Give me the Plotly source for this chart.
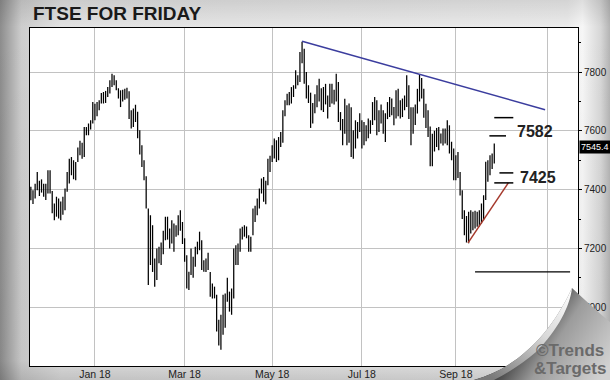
import base64
import pandas as pd
import plotly.graph_objects as go

# ---------------- data ----------------
TITLE = "FTSE FOR FRIDAY"
FIRST_DAY = "2017-11-16"
LAST_DAY = "2018-09-27"
HOLIDAYS = ["2017-12-25", "2017-12-26", "2018-01-01", "2018-03-30",
            "2018-04-02", "2018-05-07", "2018-05-28", "2018-08-27"]

HIGH_NOV17 = [7410, 7398, 7420, 7460, 7430, 7435, 7420, 7420, 7466, 7466, 7395]
LOW_NOV17 = [7364, 7351, 7370, 7398, 7378, 7390, 7376, 7365, 7387, 7387, 7320]
HIGH_DEC17 = [7353, 7376, 7370, 7360, 7376, 7404, 7460, 7505, 7511, 7500, 7494,
              7543, 7566, 7560, 7613, 7613, 7625, 7636, 7698]
LOW_DEC17 = [7296, 7308, 7302, 7296, 7315, 7330, 7393, 7421, 7449, 7435, 7432,
             7494, 7517, 7505, 7511, 7585, 7585, 7605, 7625]
HIGH_JAN18 = [7692, 7698, 7704, 7729, 7732, 7736, 7749, 7772, 7794, 7789, 7772,
              7745, 7738, 7740, 7743, 7747, 7735, 7670, 7676, 7689, 7665, 7602]
LOW_JAN18 = [7636, 7650, 7670, 7693, 7693, 7695, 7715, 7727, 7749, 7755, 7738,
             7710, 7681, 7700, 7706, 7710, 7640, 7608, 7613, 7630, 7575, 7520]
HIGH_FEB18 = [7551, 7500, 7446, 7336, 7313, 7279, 7166, 7200, 7206, 7220, 7260,
              7308, 7308, 7268, 7296, 7285, 7279, 7313, 7330, 7290]
LOW_FEB18 = [7477, 7432, 7336, 7076, 7144, 7120, 7070, 7093, 7150, 7144, 7180,
             7228, 7230, 7200, 7217, 7189, 7240, 7245, 7260, 7215]
HIGH_MAR18 = [7235, 7177, 7121, 7200, 7172, 7206, 7223, 7257, 7228, 7160, 7166,
              7185, 7120, 7081, 7070, 7042, 6957, 6974, 7042, 7047, 7100]
LOW_MAR18 = [7155, 7064, 7059, 7110, 7100, 7138, 7180, 7194, 7127, 7121, 7120,
             7127, 7036, 7030, 7030, 6917, 6870, 6855, 6906, 6930, 7019]
HIGH_APR18 = [7053, 7064, 7200, 7211, 7217, 7268, 7274, 7279, 7275, 7245, 7240,
              7336, 7345, 7370, 7404, 7438, 7443, 7430, 7505, 7515]
LOW_APR18 = [6985, 6974, 7030, 7144, 7144, 7189, 7230, 7240, 7235, 7189, 7189,
             7245, 7290, 7313, 7336, 7387, 7359, 7350, 7415, 7460]
HIGH_MAY18 = [7551, 7574, 7568, 7579, 7596, 7670, 7704, 7726, 7732, 7749, 7755,
              7806, 7789, 7868, 7903, 7879, 7800, 7755, 7730, 7695, 7725]
LOW_MAY18 = [7494, 7506, 7494, 7500, 7545, 7560, 7650, 7687, 7687, 7693, 7715,
             7743, 7755, 7766, 7830, 7760, 7710, 7695, 7610, 7625, 7660]
HIGH_JUN18 = [7755, 7777, 7745, 7749, 7760, 7720, 7760, 7760, 7740, 7794, 7766,
              7664, 7640, 7709, 7687, 7693, 7680, 7602, 7636, 7630, 7660]
LOW_JUN18 = [7680, 7700, 7670, 7664, 7690, 7642, 7681, 7693, 7690, 7700, 7630,
             7602, 7551, 7590, 7551, 7560, 7511, 7505, 7540, 7574, 7596]
HIGH_JUL18 = [7636, 7630, 7619, 7642, 7636, 7698, 7715, 7704, 7670, 7690, 7670,
              7660, 7698, 7715, 7710, 7681, 7738, 7743, 7704, 7710, 7720, 7789]
LOW_JUL18 = [7540, 7551, 7565, 7575, 7590, 7620, 7636, 7585, 7596, 7625, 7590,
             7562, 7640, 7647, 7653, 7619, 7642, 7650, 7642, 7647, 7670, 7681]
HIGH_AUG18 = [7755, 7680, 7680, 7690, 7743, 7792, 7780, 7743, 7692, 7670, 7615,
              7590, 7600, 7610, 7613, 7591, 7608, 7608, 7636, 7619, 7563, 7540]
LOW_AUG18 = [7640, 7551, 7590, 7620, 7659, 7700, 7710, 7645, 7610, 7579, 7480,
             7480, 7530, 7545, 7534, 7557, 7550, 7557, 7551, 7523, 7500, 7432]
HIGH_SEP18 = [7517, 7528, 7460, 7398, 7330, 7310, 7325, 7330, 7325, 7328, 7325,
              7330, 7353, 7381, 7495, 7500, 7517, 7523, 7557]
LOW_SEP18 = [7432, 7440, 7380, 7300, 7245, 7220, 7218, 7251, 7262, 7268, 7274,
             7275, 7285, 7296, 7365, 7427, 7449, 7470, 7489]

HIGHS = (HIGH_NOV17 + HIGH_DEC17 + HIGH_JAN18 + HIGH_FEB18 + HIGH_MAR18 + HIGH_APR18
         + HIGH_MAY18 + HIGH_JUN18 + HIGH_JUL18 + HIGH_AUG18 + HIGH_SEP18)
LOWS = (LOW_NOV17 + LOW_DEC17 + LOW_JAN18 + LOW_FEB18 + LOW_MAR18 + LOW_APR18
        + LOW_MAY18 + LOW_JUN18 + LOW_JUL18 + LOW_AUG18 + LOW_SEP18)

X_TICKVALS = ["2018-01-02", "2018-03-01", "2018-05-01", "2018-07-02", "2018-09-03", "2018-11-01"]
X_TICKTEXT = ["Jan 18", "Mar 18", "May 18", "Jul 18", "Sep 18", ""]
X_RANGE = ["2017-11-15 14:24", "2018-11-21 05:00"]
Y_TICKVALS = [7000, 7200, 7400, 7600, 7800]
Y_MINOR = [6900, 7100, 7300, 7500, 7700, 7900]
Y_RANGE = [6800, 7950]
LAST_PRICE = 7545.4

DOWN_TREND_X = ["2018-05-22", "2018-10-30 19:00"]
DOWN_TREND_Y = [7905, 7672]
UP_TREND_X = ["2018-09-10 17:00", "2018-10-05 14:00"]
UP_TREND_Y = [7219, 7423]
SUPPORT_X = ["2018-09-14", "2018-11-15 12:00"]
SUPPORT_Y = [7120, 7120]
TARGET_LEVELS = [7645, 7583, 7457, 7423]
TARGET_STARTS = ["2018-09-27", "2018-09-24 17:00", "2018-10-01 10:00", "2018-09-27"]
TARGET_ENDS = ["2018-10-09 22:00", "2018-10-04 12:00", "2018-10-09 22:00", "2018-10-09 22:00"]
TARGET_LABELS = ["7582", "7425"]
TARGET_LABEL_Y = [7597, 7442]
TARGET_LABEL_XPX = [515, 518]

dates = [d for d in pd.bdate_range(FIRST_DAY, LAST_DAY).strftime("%Y-%m-%d") if d not in HOLIDAYS]
assert len(dates) == len(HIGHS) == len(LOWS), (len(dates), len(HIGHS), len(LOWS))

# ---------------- figure ----------------
W, H = 610, 380
ML, MR, MT, MB = 30, 32, 28, 14
PW, PH = W - ML - MR, H - MT - MB
FONT = "Liberation Sans, Arial, Helvetica, sans-serif"


def px_x(px):
    return (px - ML) / PW


def px_y(py):
    return 1 - (py - MT) / PH


fig = go.Figure()
fig.add_trace(go.Ohlc(
    x=dates, open=LOWS, high=HIGHS, low=LOWS, close=HIGHS,
    increasing=dict(line=dict(color="#000000", width=1.25)),
    decreasing=dict(line=dict(color="#000000", width=1.25)),
    tickwidth=0.001, hoverinfo="skip", showlegend=False))

fig.add_trace(go.Scatter(x=DOWN_TREND_X, y=DOWN_TREND_Y, mode="lines",
                         line=dict(color="#3b3d9e", width=1.5), showlegend=False, hoverinfo="skip"))
fig.add_trace(go.Scatter(x=UP_TREND_X, y=UP_TREND_Y, mode="lines",
                         line=dict(color="#a5392c", width=1.5), showlegend=False, hoverinfo="skip"))
fig.add_trace(go.Scatter(x=SUPPORT_X, y=SUPPORT_Y, mode="lines",
                         line=dict(color="#000000", width=1.3), showlegend=False, hoverinfo="skip"))
for lvl, s, e in zip(TARGET_LEVELS, TARGET_STARTS, TARGET_ENDS):
    fig.add_trace(go.Scatter(x=[s, e], y=[lvl, lvl], mode="lines",
                             line=dict(color="#000000", width=1.5), showlegend=False, hoverinfo="skip"))

bg_svg = f'''<svg xmlns="http://www.w3.org/2000/svg" width="{W}" height="{H}" viewBox="0 0 {W} {H}">
<defs>
<linearGradient id="h" gradientUnits="userSpaceOnUse" x1="0" y1="0" x2="{W}" y2="0">
<stop offset="0" stop-color="#8c8c8c"/><stop offset="0.035" stop-color="#cdcdcd"/>
<stop offset="0.1" stop-color="#e2e2e2"/><stop offset="0.93" stop-color="#ebebeb"/>
<stop offset="0.955" stop-color="#f6f6f6"/><stop offset="0.985" stop-color="#d6d6d6"/>
<stop offset="1" stop-color="#b4b4b4"/>
</linearGradient>
<linearGradient id="v" gradientUnits="userSpaceOnUse" x1="0" y1="0" x2="0" y2="{H}">
<stop offset="0" stop-color="#000" stop-opacity="0.10"/><stop offset="0.07" stop-color="#000" stop-opacity="0"/>
<stop offset="0.95" stop-color="#000" stop-opacity="0.04"/><stop offset="1" stop-color="#000" stop-opacity="0.14"/>
</linearGradient>
</defs>
<rect width="{W}" height="{H}" fill="url(#h)"/>
<rect width="{W}" height="{H}" fill="url(#v)"/>
<rect x="{ML}" y="{MT}" width="{PW}" height="{PH}" fill="#ffffff"/>
</svg>'''

curl_svg = f'''<svg xmlns="http://www.w3.org/2000/svg" width="{W}" height="{H}" viewBox="0 0 {W} {H}">
<defs>
<linearGradient id="c" gradientUnits="userSpaceOnUse" x1="505" y1="335" x2="592" y2="392">
<stop offset="0" stop-color="#1a1a1a"/><stop offset="0.18" stop-color="#4c4c4c"/>
<stop offset="0.45" stop-color="#9c9c9c"/><stop offset="1" stop-color="#d2d2d2"/>
</linearGradient>
<linearGradient id="p" gradientUnits="userSpaceOnUse" x1="574" y1="290" x2="495" y2="380">
<stop offset="0" stop-color="#ffffff"/><stop offset="0.45" stop-color="#d9d9d9"/>
<stop offset="1" stop-color="#7a7a7a"/>
</linearGradient>
</defs>
<path d="M474,380 C515,369 550,336 572,288 C585,300 598,312 610,322 L610,380 Z" fill="url(#c)"/>
<path d="M474,380 C515,369 550,336 572,288 C570,306 558,330 536,352 C522,364 508,373 494,380 Z" fill="url(#p)"/>
</svg>'''


def svg_uri(s):
    return "data:image/svg+xml;base64," + base64.b64encode(s.encode("utf-8")).decode("ascii")


img_common = dict(xref="paper", yref="paper", x=-ML / PW, y=1 + MT / PH,
                  sizex=W / PW, sizey=H / PH, xanchor="left", yanchor="top",
                  sizing="stretch")
fig.add_layout_image(source=svg_uri(bg_svg), layer="below", **img_common)
fig.add_layout_image(source=svg_uri(curl_svg), layer="above", **img_common)

# title
fig.add_annotation(text=f"<b>{TITLE}</b>", xref="paper", yref="paper",
                   x=px_x(31), y=px_y(13), xanchor="left", yanchor="middle",
                   showarrow=False, font=dict(family=FONT, size=19, color="#1a1a1a"))
# target labels
for lab, yv, xp in zip(TARGET_LABELS, TARGET_LABEL_Y, TARGET_LABEL_XPX):
    fig.add_annotation(text=f"<b>{lab}</b>", xref="paper", yref="y", x=px_x(xp), y=yv,
                       xanchor="left", yanchor="middle", showarrow=False,
                       font=dict(family=FONT, size=16, color="#222222"))
# last price box
fig.add_annotation(text=f"{LAST_PRICE:.1f}", xref="paper", yref="y", x=px_x(579), y=LAST_PRICE,
                   xanchor="left", yanchor="middle", showarrow=False, bgcolor="#000000",
                   borderpad=1, font=dict(family=FONT, size=9, color="#ffffff"))
# copyright
fig.add_annotation(text="<b>©Trends</b>", xref="paper", yref="paper", x=px_x(606), y=px_y(350),
                   xanchor="right", yanchor="middle", showarrow=False,
                   font=dict(family=FONT, size=17, color="#6a6a6a"))
fig.add_annotation(text="<b>&amp;Targets</b>", xref="paper", yref="paper", x=px_x(608), y=px_y(368),
                   xanchor="right", yanchor="middle", showarrow=False,
                   font=dict(family=FONT, size=17, color="#6a6a6a"))

fig.update_layout(
    width=W, height=H, margin=dict(l=ML, r=MR, t=MT, b=MB, pad=0, autoexpand=False),
    paper_bgcolor="#e4e4e4", plot_bgcolor="rgba(0,0,0,0)",
    showlegend=False, hovermode=False,
    font=dict(family=FONT, size=10, color="#222222"),
    xaxis=dict(type="date", range=X_RANGE,
               rangebreaks=[dict(bounds=["sat", "mon"]), dict(values=HOLIDAYS)],
               tickmode="array", tickvals=X_TICKVALS, ticktext=X_TICKTEXT,
               showgrid=True, gridcolor="#c2c2c2", gridwidth=1, ticks="",
               ticklabelstandoff=-2,
               showline=True, linecolor="#000000", linewidth=1, mirror=True,
               zeroline=False, rangeslider=dict(visible=False), automargin=False,
               tickfont=dict(family=FONT, size=10.5, color="#222222")),
    yaxis=dict(range=Y_RANGE, side="right", tickmode="array", tickvals=Y_TICKVALS,
               showgrid=True, gridcolor="#c2c2c2", gridwidth=1,
               ticks="outside", ticklen=3, tickcolor="#000000",
               minor=dict(tickmode="array", tickvals=Y_MINOR, ticks="outside", ticklen=2,
                          tickcolor="#000000", showgrid=False),
               showline=True, linecolor="#000000", linewidth=1, mirror=True, automargin=False,
               zeroline=False, tickfont=dict(family=FONT, size=10, color="#222222")),
)

fig.write_html("out.html", config={"displayModeBar": False},
               post_script="document.body.style.margin='0';document.body.style.overflow='hidden';")
